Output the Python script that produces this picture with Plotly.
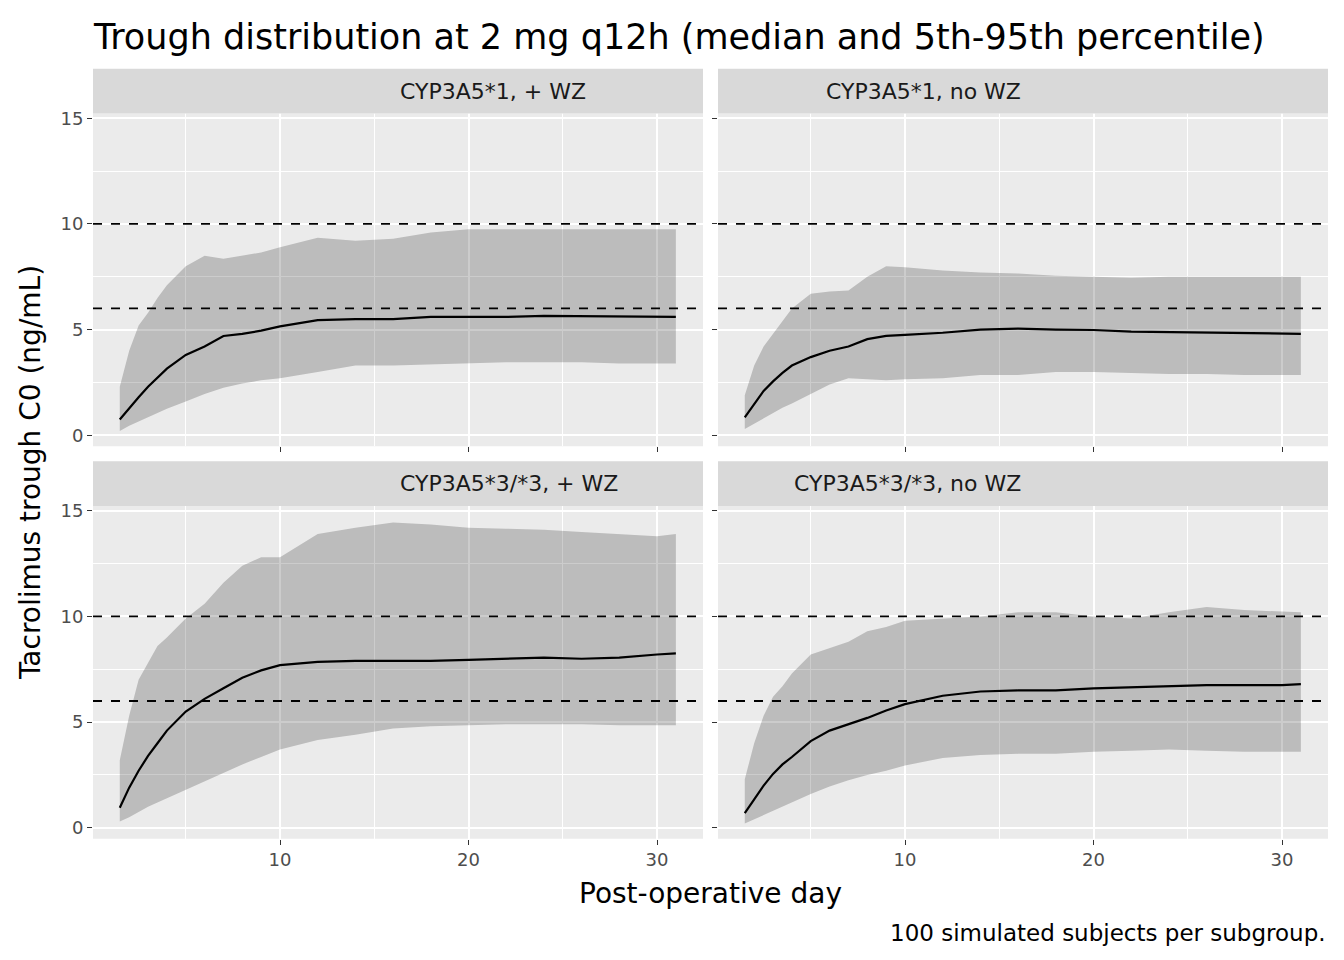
import plotly.graph_objects as go

days = [1.5,2,2.5,3,3.5,4,5,6,7,8,9,10,12,14,16,18,20,22,24,26,28,30,31]
panels = ["CYP3A5*1, + WZ", "CYP3A5*1, no WZ", "CYP3A5*3/*3, + WZ", "CYP3A5*3/*3, no WZ"]
med_a = [0.75,1.3,1.8,2.3,2.75,3.15,3.8,4.2,4.7,4.8,4.95,5.15,5.45,5.5,5.5,5.6,5.6,5.6,5.65,5.63,5.6,5.6,5.6]
p95_a = [2.3,4.0,5.2,5.8,6.5,7.1,8.0,8.5,8.35,8.5,8.65,8.9,9.35,9.2,9.3,9.6,9.75,9.75,9.75,9.75,9.75,9.75,9.75]
p5_a = [0.2,0.45,0.65,0.85,1.05,1.25,1.6,1.95,2.25,2.45,2.6,2.7,3.0,3.3,3.3,3.35,3.4,3.45,3.45,3.45,3.4,3.4,3.4]
med_b = [0.85,1.5,2.1,2.55,2.95,3.3,3.7,4.0,4.2,4.55,4.7,4.75,4.85,5.0,5.05,5.0,4.98,4.9,4.88,4.85,4.82,4.8,4.8]
p95_b = [1.9,3.3,4.2,4.8,5.4,6.0,6.7,6.8,6.85,7.5,8.0,7.95,7.8,7.7,7.65,7.55,7.5,7.45,7.5,7.5,7.5,7.5,7.5]
p5_b = [0.3,0.55,0.8,1.05,1.3,1.5,1.95,2.4,2.7,2.65,2.6,2.65,2.7,2.85,2.85,3.0,3.0,2.95,2.9,2.9,2.85,2.85,2.85]
med_c = [0.95,1.9,2.7,3.4,4.0,4.6,5.5,6.1,6.6,7.1,7.45,7.7,7.85,7.9,7.9,7.9,7.95,8.0,8.05,8.0,8.05,8.2,8.25]
p95_c = [3.2,5.3,7.0,7.8,8.6,9.0,9.9,10.6,11.6,12.4,12.8,12.8,13.9,14.2,14.45,14.35,14.2,14.15,14.1,14.0,13.9,13.8,13.9]
p5_c = [0.3,0.5,0.75,1.0,1.2,1.4,1.8,2.2,2.6,3.0,3.35,3.7,4.15,4.4,4.7,4.8,4.85,4.9,4.9,4.9,4.85,4.85,4.85]
med_d = [0.7,1.35,2.0,2.55,3.0,3.35,4.1,4.6,4.9,5.2,5.55,5.85,6.25,6.45,6.5,6.5,6.6,6.65,6.7,6.75,6.75,6.75,6.8]
p95_d = [2.3,4.0,5.3,6.2,6.7,7.3,8.2,8.5,8.8,9.3,9.5,9.8,9.9,10.0,10.2,10.2,10.0,9.9,10.2,10.45,10.3,10.25,10.2]
p5_d = [0.2,0.4,0.6,0.8,1.0,1.2,1.6,1.95,2.25,2.5,2.7,2.95,3.3,3.45,3.5,3.5,3.6,3.65,3.7,3.65,3.6,3.6,3.6]
targets = [6, 10]
xticks = [10, 20, 30]
yticks = [0, 5, 10, 15]

data = [(med_a, p5_a, p95_a), (med_b, p5_b, p95_b), (med_c, p5_c, p95_c), (med_d, p5_d, p95_d)]
W, H = 1344, 960
OFF = 8
def px(x): return (x - OFF) / W
def py(y): return 1 - (y - OFF) / H

xd = [(px(93), px(703)), (px(718), px(1328))]
yd = [(py(443), py(108)), (py(838), py(503))]
strip = [(py(108), py(63)), (py(503), py(458))]

fig = go.Figure()
layout = {}
shapes, annots = [], []
font = "DejaVu Sans"
tf = dict(size=18, color="#4d4d4d")
for i, (name, (med, lo, hi)) in enumerate(zip(panels, data)):
    r, c = divmod(i, 2)
    sfx = "" if i == 0 else str(i+1)
    xa, ya = "x"+sfx, "y"+sfx
    fig.add_trace(go.Scatter(x=days, y=lo, xaxis=xa, yaxis=ya, mode="lines", line=dict(width=0), showlegend=False, hoverinfo="skip"))
    fig.add_trace(go.Scatter(x=days, y=hi, xaxis=xa, yaxis=ya, mode="lines", line=dict(width=0), fill="tonexty", fillcolor="rgba(0,0,0,0.2)", showlegend=False))
    for t in targets:
        fig.add_trace(go.Scatter(x=[0.08, 32.44], y=[t, t], xaxis=xa, yaxis=ya, mode="lines", line=dict(color="black", dash="dash", width=1.8), showlegend=False))
    fig.add_trace(go.Scatter(x=days, y=med, xaxis=xa, yaxis=ya, mode="lines", line=dict(color="black", width=2.2), showlegend=False))
    layout["xaxis"+sfx] = dict(domain=xd[c], range=[0.08, 32.44], anchor=ya, tickvals=xticks, showticklabels=(r == 1),
                               ticks="outside", ticklen=5, tickcolor="#333", gridcolor="white", gridwidth=1.8, zeroline=False,
                               minor=dict(tickvals=[5, 15, 25], showgrid=True, gridcolor="white", gridwidth=0.9),
                               tickfont=tf, showline=False)
    layout["yaxis"+sfx] = dict(domain=yd[r], range=[-0.52, 15.23], anchor=xa, tickvals=yticks, showticklabels=(c == 0),
                               ticks="outside", ticklen=5, tickcolor="#333", gridcolor="white", gridwidth=1.8, zeroline=False,
                               minor=dict(tickvals=[2.5, 7.5, 12.5], showgrid=True, gridcolor="white", gridwidth=0.9),
                               tickfont=tf, showline=False)
    shapes.append(dict(type="rect", xref="paper", yref="paper", x0=xd[c][0], x1=xd[c][1], y0=yd[r][0], y1=yd[r][1],
                       fillcolor="#ebebeb", line_width=0, layer="below"))
    shapes.append(dict(type="rect", xref="paper", yref="paper", x0=xd[c][0], x1=xd[c][1], y0=strip[r][0], y1=strip[r][1],
                       fillcolor="#d9d9d9", line_width=0))
    annots.append(dict(text=name, xref="paper", yref="paper", x=(xd[c][0]+xd[c][1])/2, y=(strip[r][0]+strip[r][1])/2,
                       yanchor="middle", showarrow=False, font=dict(size=22, color="#1a1a1a")))

annots += [
    dict(text="Post-operative day", xref="paper", yref="paper", x=px((93+1328)/2), y=py(893), yanchor="middle", showarrow=False, font=dict(size=28, color="black")),
    dict(text="Tacrolimus trough C0 (ng/mL)", xref="paper", yref="paper", x=px(30), y=py(470), yanchor="middle", xanchor="center", textangle=-90, showarrow=False, font=dict(size=28, color="black")),
    dict(text="100 simulated subjects per subgroup.", xref="paper", yref="paper", x=px(1328), y=py(933), xanchor="right", yanchor="middle", showarrow=False, font=dict(size=23, color="black")),
    dict(text="Trough distribution at 2 mg q12h (median and 5th-95th percentile)", xref="paper", yref="paper", x=px(91), y=py(31), xanchor="left", yanchor="middle", showarrow=False, font=dict(size=35, color="black")),
]
fig.update_layout(width=W, height=H, margin=dict(l=0, r=0, t=0, b=0), plot_bgcolor="rgba(0,0,0,0)", paper_bgcolor="white",
                  font=dict(family=font), shapes=shapes, annotations=annots, showlegend=False, **layout)
fig.write_html("out.html")
